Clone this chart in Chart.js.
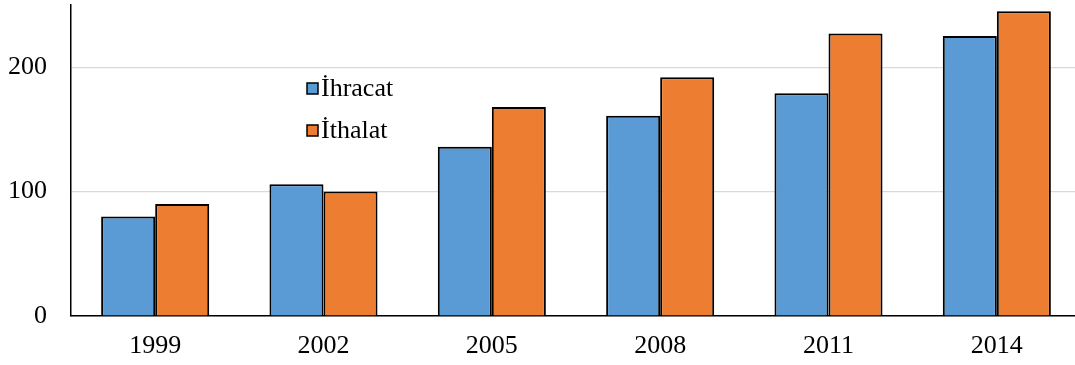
<!DOCTYPE html>
<html>
<head>
<meta charset="utf-8">
<script src="https://cdn.jsdelivr.net/npm/chart.js@4/dist/chart.umd.min.js"></script>
<style>
  html, body { margin: 0; padding: 0; background: #ffffff; }
  #wrap { width: 1075px; height: 365px; overflow: hidden; position: relative; }
  #box { width: 1082px; height: 365px; position: absolute; left: 0; top: 0; }
</style>
</head>
<body>
<div id="wrap"><div id="box"><canvas id="c"></canvas></div></div>
<script>
const years = ['1999', '2002', '2005', '2008', '2011', '2014'];
const exportsVals = [80, 106, 136, 161, 179, 225];
const importsVals = [90, 100, 168, 192, 227, 245];
const seriesNames = ['İhracat', 'İthalat'];
const yTicks = [0, 100, 200];

const serif = '"Liberation Serif", "Times New Roman", serif';

// Legend drawn inside the plot area as two stacked rows
const innerLegend = {
  id: 'innerLegend',
  afterDraw(chart) {
    const ctx = chart.ctx;
    const x0 = 307, rows = [89, 131];
    ctx.save();
    ctx.font = '26px ' + serif;
    ctx.textBaseline = 'middle';
    ctx.textAlign = 'left';
    chart.data.datasets.forEach((ds, i) => {
      const y = rows[i];
      ctx.fillStyle = ds.backgroundColor;
      ctx.fillRect(x0, y - 6, 11, 11);
      ctx.lineWidth = 1.5;
      ctx.strokeStyle = '#000000';
      ctx.strokeRect(x0, y - 6, 11, 11);
      ctx.fillStyle = '#000000';
      ctx.fillText(ds.label, x0 + 14, y);
    });
    ctx.restore();
  }
};

new Chart(document.getElementById('c'), {
  type: 'bar',
  data: {
    labels: years,
    datasets: [
      { label: seriesNames[0], data: exportsVals, backgroundColor: '#5B9BD5', borderColor: '#000000', borderWidth: 2 },
      { label: seriesNames[1], data: importsVals, backgroundColor: '#ED7D31', borderColor: '#000000', borderWidth: 2 }
    ]
  },
  options: {
    responsive: true,
    maintainAspectRatio: false,
    animation: false,
    layout: { padding: { top: 5, right: 1, left: 0, bottom: 0 } },
    datasets: { bar: { categoryPercentage: 0.642, barPercentage: 1.0 } },
    plugins: { legend: { display: false }, tooltip: { enabled: false } },
    scales: {
      x: {
        grid: { display: false, drawTicks: false },
        border: { display: true, color: '#000000', width: 1.5 },
        ticks: { color: '#000000', font: { family: serif, size: 26 }, padding: 15, maxRotation: 0 },
        afterFit(scale) { scale.height = 49; }
      },
      y: {
        min: 0,
        max: 250,
        grid: { color: '#d9d9d9', lineWidth: 1.2, drawTicks: false },
        border: { display: true, color: '#000000', width: 1.5 },
        ticks: { color: '#000000', font: { family: serif, size: 26 }, padding: 24 },
        afterBuildTicks(scale) { scale.ticks = yTicks.map(v => ({ value: v })); },
        afterFit(scale) { scale.width = 71; scale.paddingTop = 0; scale.paddingBottom = 0; }
      }
    }
  },
  plugins: [innerLegend]
});
</script>
</body>
</html>
